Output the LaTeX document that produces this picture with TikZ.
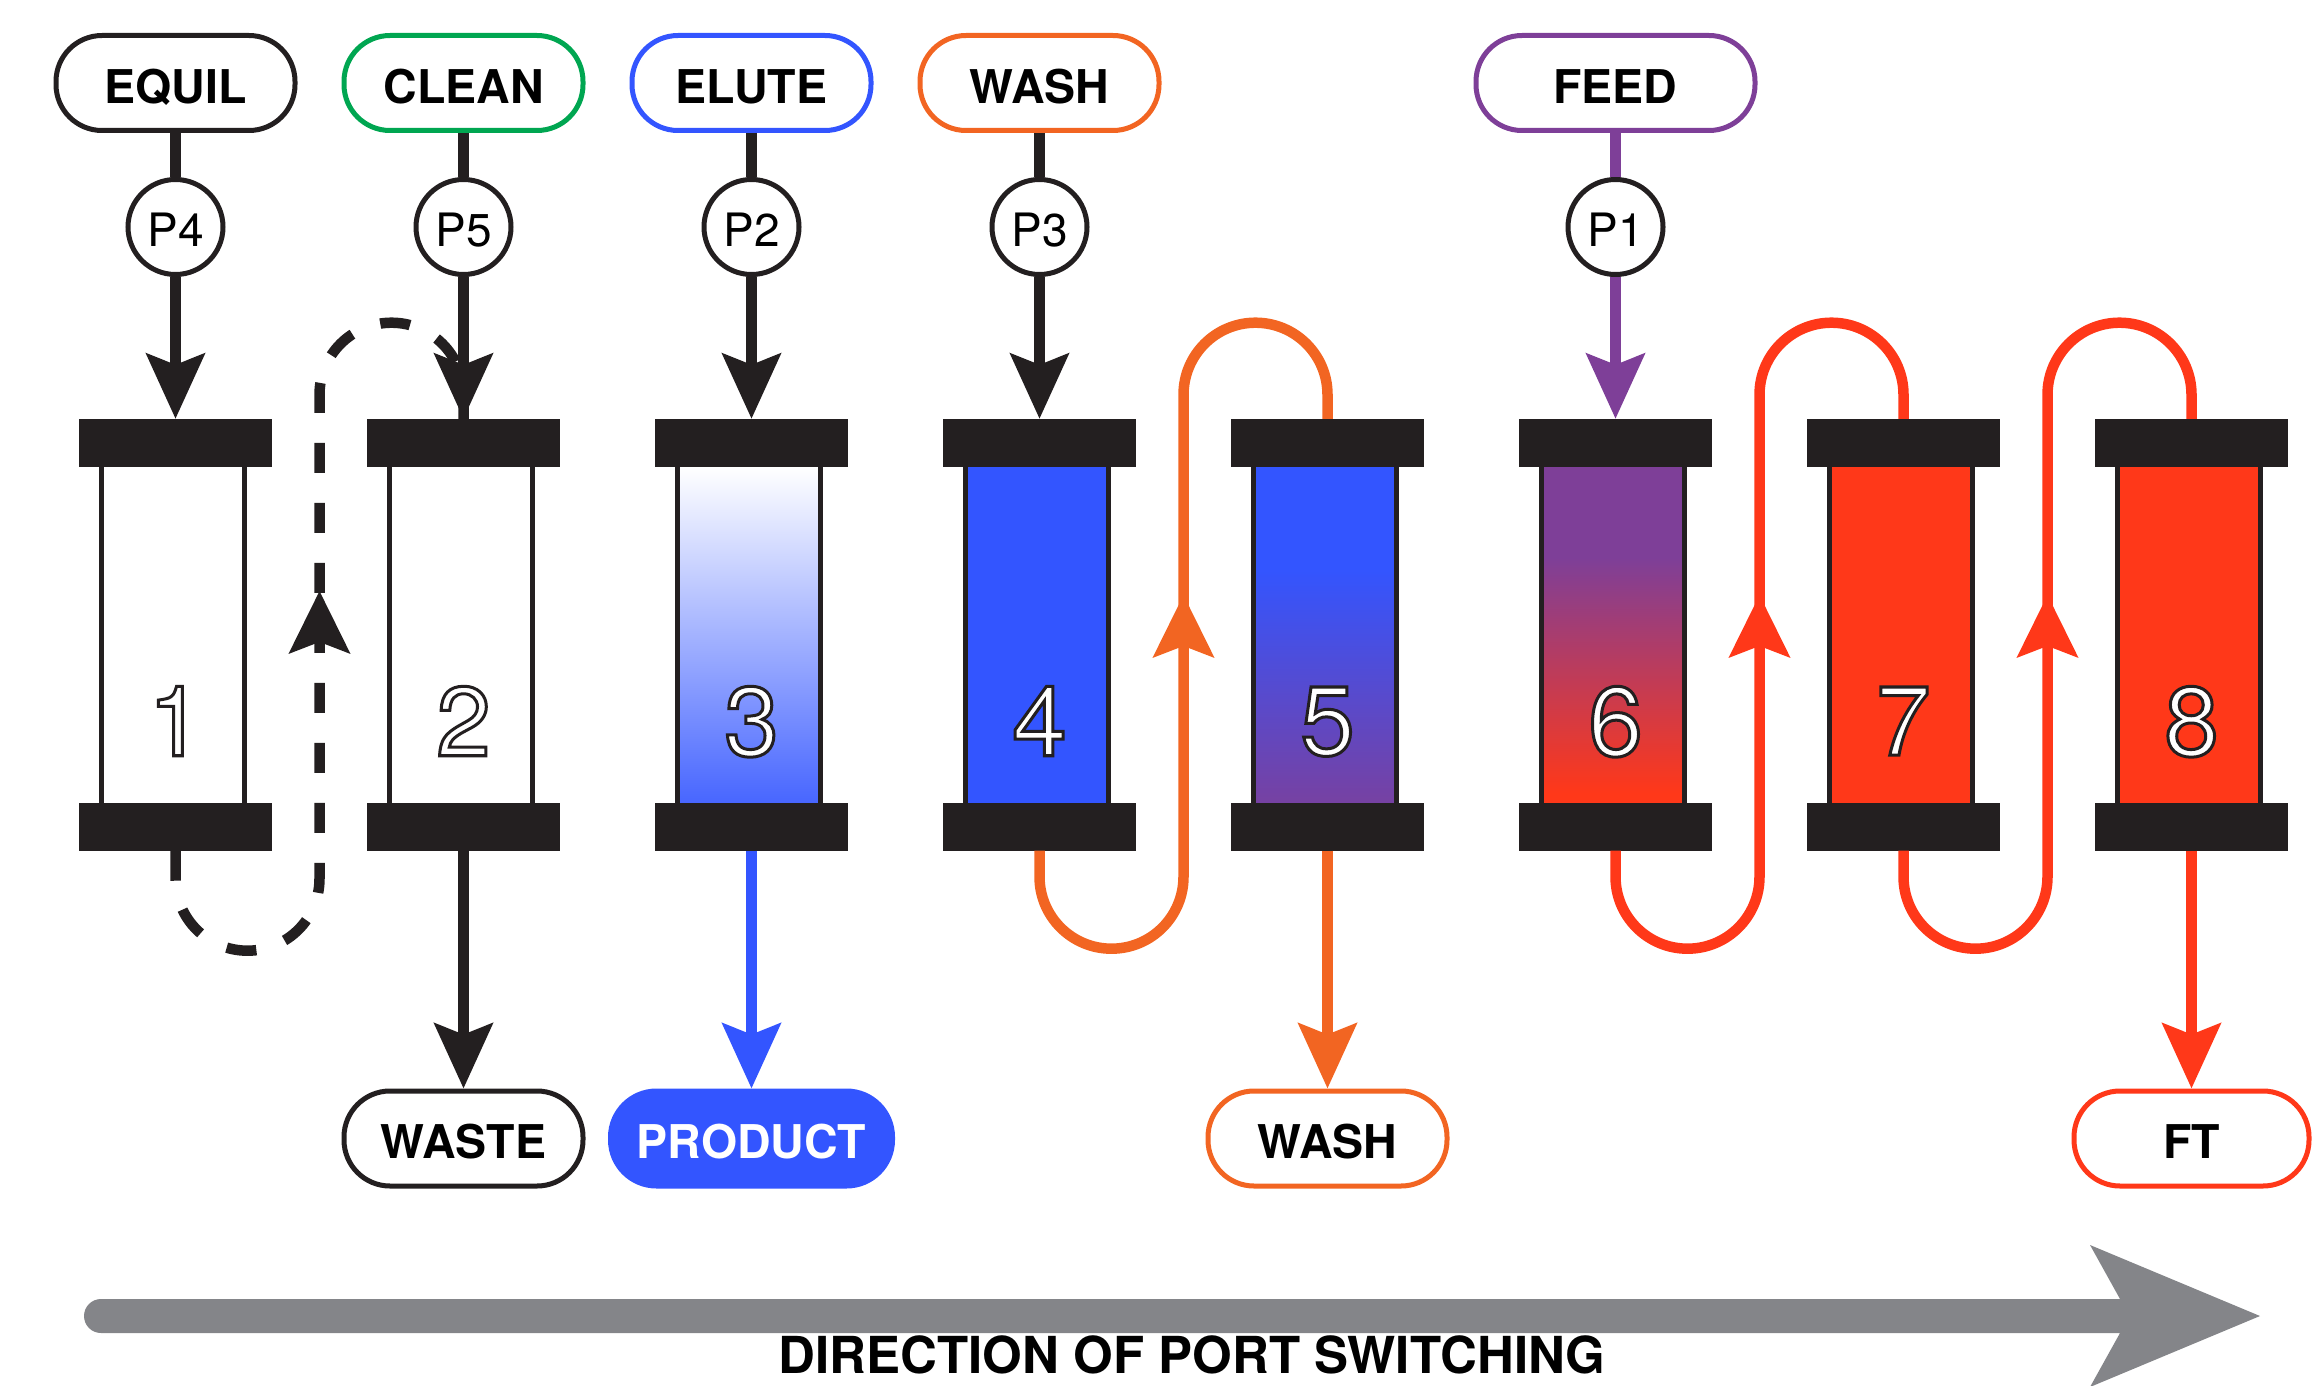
\documentclass[tikz,border=0pt]{standalone}
\usepackage{fontspec}
\setmainfont{TeX Gyre Heros}
\usetikzlibrary{arrows.meta,decorations.markings}

\definecolor{ink}{HTML}{231F20}
\definecolor{cleangreen}{HTML}{00A651}
\definecolor{eluteblue}{HTML}{3355FF}
\definecolor{washorange}{HTML}{F26522}
\definecolor{feedpurple}{HTML}{7E3F98}
\definecolor{ftred}{HTML}{FF3819}
\definecolor{switchgray}{HTML}{848589}

% bed shadings (25bp = bottom of the bed, 75bp = top of the bed)
\pgfdeclareverticalshading{elutegrad}{100bp}{color(0bp)=(eluteblue!90!white); color(25bp)=(eluteblue!90!white); color(75bp)=(white); color(100bp)=(white)}
\pgfdeclareverticalshading{washgrad}{100bp}{color(0bp)=(feedpurple!90!eluteblue); color(25bp)=(feedpurple!90!eluteblue); color(60bp)=(eluteblue); color(100bp)=(eluteblue)}
\pgfdeclareverticalshading{feedgrad}{100bp}{color(0bp)=(ftred); color(26.5bp)=(ftred); color(61.5bp)=(feedpurple); color(100bp)=(feedpurple)}

% white digits with a dark outline (fill + stroke text rendering)
\newcommand{\hollowdigit}[1]{\special{pdf:code 2 Tr 3 w 0.137 0.122 0.125 RG}#1\special{pdf:code 0 Tr}}

\tikzset{
  portbox/.style={draw, line width=5pt, rounded corners=46pt, minimum width=239pt,
    minimum height=95pt, fill=white, inner sep=0pt,
    font=\fontsize{46.5}{46.5}\selectfont\bfseries, text height=42pt, text depth=0pt},
  outbox/.style={portbox, text height=40.5pt},
  pumpnode/.style={circle, draw=ink, line width=5pt, fill=white, minimum size=95pt,
    inner sep=0pt, font=\fontsize{46}{46}\selectfont, text height=39pt, text depth=0pt},
  capbar/.style={fill=ink, minimum width=193pt, minimum height=48pt, inner sep=0pt},
  bed/.style={minimum width=142pt, minimum height=336pt, inner sep=0pt},
  bedwall/.style={draw=ink, line width=5pt},
  colnum/.style={text=white, font=\fontsize{98}{98}\selectfont, text depth=0pt, inner sep=0pt},
  flow/.style={line width=10.5pt},
  tipdown/.style={-{Stealth[length=65pt,width=58pt,inset=11pt]}},
  uparrow/.style={postaction={decorate}, decoration={markings,
    mark=at position #1 with {\arrow{Stealth[length=62pt,width=60pt,inset=11pt]}}}},
}

\begin{document}
\begin{tikzpicture}[x=1pt,y=-1pt]
\useasboundingbox (0,0) rectangle (2315,1386);

% ---------- column beds ----------
\node[bed, fill=white]          (bed1) at (173,635) {};
\node[bed, fill=white]          (bed2) at (461,635) {};
\node[bed, shading=elutegrad]   (bed3) at (749,635) {};
\node[bed, fill=eluteblue]      (bed4) at (1037,635) {};
\node[bed, shading=washgrad]    (bed5) at (1325,635) {};
\node[bed, shading=feedgrad]    (bed6) at (1613,635) {};
\node[bed, fill=ftred]          (bed7) at (1901,635) {};
\node[bed, fill=ftred]          (bed8) at (2189,635) {};

\foreach \k in {1,...,8} {
  \draw[bedwall] (bed\k.north west) -- (bed\k.south west);
  \draw[bedwall] (bed\k.north east) -- (bed\k.south east);
  \pgfmathsetmacro\cx{175.5+288*(\k-1)}
  \node[capbar] (t\k) at (\cx,443) {};
  \node[capbar] (b\k) at (\cx,826.5) {};
  \node[colnum] (n\k) at (\cx,721) {\hollowdigit{\k}};
}

% ---------- inlet ports and pumps ----------
\node[portbox, draw=ink]        (equil) at (175.5,83)  {EQUIL};
\node[portbox, draw=cleangreen] (clean) at (463.5,83)  {CLEAN};
\node[portbox, draw=eluteblue]  (elute) at (751.5,83)  {ELUTE};
\node[portbox, draw=washorange] (washin) at (1039.5,83) {WASH};
\node[portbox, draw=feedpurple, minimum width=279pt] (feed) at (1615.5,83) {FEED};

\node[pumpnode] (p4) at (175.5,227)  {P4};
\node[pumpnode] (p5) at (463.5,227)  {P5};
\node[pumpnode] (p2) at (751.5,227)  {P2};
\node[pumpnode] (p3) at (1039.5,227) {P3};
\node[pumpnode] (p1) at (1615.5,227) {P1};

% ---------- outlet ports ----------
\node[outbox, draw=ink]        (waste)   at (463.5,1138.5)  {WASTE};
\node[outbox, draw=eluteblue, fill=eluteblue, text=white, minimum width=282pt] (product) at (751.5,1138.5) {PRODUCT};
\node[outbox, draw=washorange] (washout) at (1327.5,1138.5) {WASH};
\node[outbox, draw=ftred, minimum width=235pt] (ft) at (2191.5,1138.5) {FT};

% ---------- recycle loops between columns ----------
\draw[flow, ink, dash pattern=on 30pt off 30pt, uparrow=542pt]
  (b1.south) -- ++(0,28) arc[start angle=180,end angle=0,radius=72]
  -- ++(0,-484) arc[start angle=180,end angle=360,radius=72] -- (t2.north);
\draw[flow, washorange, uparrow=534pt]
  (b4.south) -- ++(0,26) arc[start angle=180,end angle=0,radius=72]
  -- ++(0,-482) arc[start angle=180,end angle=360,radius=72] -- (t5.north);
\draw[flow, ftred, uparrow=534pt]
  (b6.south) -- ++(0,26) arc[start angle=180,end angle=0,radius=72]
  -- ++(0,-482) arc[start angle=180,end angle=360,radius=72] -- (t7.north);
\draw[flow, ftred, uparrow=534pt]
  (b7.south) -- ++(0,26) arc[start angle=180,end angle=0,radius=72]
  -- ++(0,-482) arc[start angle=180,end angle=360,radius=72] -- (t8.north);

% ---------- feed lines ----------
\draw[flow, ink] (equil) -- (p4);
\draw[flow, ink, tipdown] (p4) -- (t1);
\draw[flow, ink] (clean) -- (p5);
\draw[flow, ink, tipdown] (p5) -- (t2);
\draw[flow, ink] (elute) -- (p2);
\draw[flow, ink, tipdown] (p2) -- (t3);
\draw[flow, ink] (washin) -- (p3);
\draw[flow, ink, tipdown] (p3) -- (t4);
\draw[flow, feedpurple] (feed) -- (p1);
\draw[flow, feedpurple, tipdown] (p1) -- (t6);

% ---------- outlet lines ----------
\draw[flow, ink, tipdown] (b2) -- (waste);
\draw[flow, eluteblue, tipdown] (b3) -- (product);
\draw[flow, washorange, tipdown] (b5) -- (washout);
\draw[flow, ftred, tipdown] (b8) -- (ft);

% ---------- port switching direction ----------
\coordinate (swStart) at (101,1316);
\coordinate (swTip) at (2260,1316);
\fill[switchgray] (swStart) ++(0,-17) -- (2120,1299) -- (2090,1245) -- (swTip)
  -- (2090,1387) -- (2120,1333) -- (101,1333) arc[start angle=90,end angle=270,radius=17] -- cycle;
\node[font=\fontsize{51}{51}\selectfont\bfseries, anchor=base, inner sep=0pt] (swlabel)
  at (1192,1373) {DIRECTION OF PORT SWITCHING};
\end{tikzpicture}
\end{document}
